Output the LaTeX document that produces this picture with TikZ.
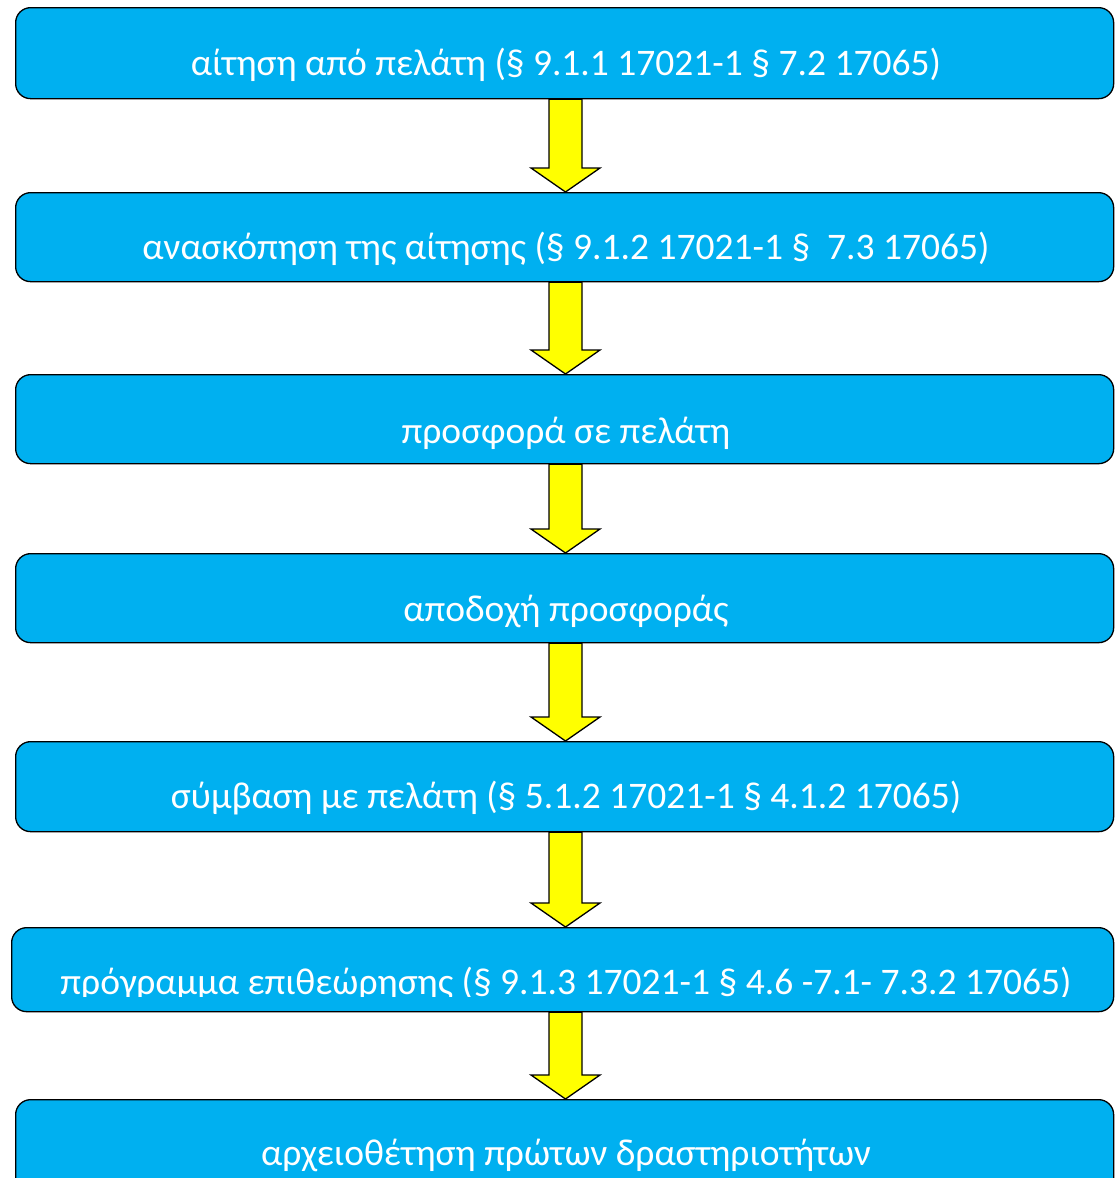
\documentclass[tikz,border=0pt]{standalone}
\usepackage{fontspec}
\setmainfont{Carlito}
\usetikzlibrary{calc}

\definecolor{stageblue}{HTML}{00B0F0}
\definecolor{arrowyellow}{HTML}{FFFF00}

% block arrow from the bottom of one stage to the top of the next
\newcommand\flowarrow[2]{%
  \draw[flowarrow] let \p1=(ax |- #1.south), \p2=(ax |- #2.north) in
    (\x1-16.5pt,\y1) -- (\x1-16.5pt,\y2+24pt) -- (\x1-34.5pt,\y2+24pt) -- (\x2,\y2)
    -- (\x1+34.5pt,\y2+24pt) -- (\x1+16.5pt,\y2+24pt) -- (\x1+16.5pt,\y1) -- cycle;}

\begin{document}
\begin{tikzpicture}[x=1pt, y=-1pt,
      stage/.style={draw=black, line width=1.3pt, fill=stageblue, rounded corners=15pt,
        anchor=north west, minimum width=1098pt, inner sep=0pt},
      stagetext/.style={anchor=base, text=white, inner sep=0pt,
        font=\fontsize{37.5}{45}\selectfont},
      flowarrow/.style={draw=black, line width=1.3pt, fill=arrowyellow, line join=miter}]

    \useasboundingbox[fill=white] (0,0) rectangle (1114,1178);

    \node[stage, minimum height=91pt] (b1) at (15,7)    {};
    \node[stage, minimum height=89pt] (b2) at (15,192)  {};
    \node[stage, minimum height=89pt] (b3) at (15,374)  {};
    \node[stage, minimum height=89pt] (b4) at (15,553)  {};
    \node[stage, minimum height=90pt] (b5) at (15,741)  {};
    \node[stage, minimum height=84pt, minimum width=1102pt] (b6) at (11,927) {};
    \node[stage, minimum height=110pt] (b7) at (15,1099) {};

    \coordinate (ax) at (565.5,0);
    \foreach \a/\b in {b1/b2, b2/b3, b3/b4, b4/b5, b5/b6, b6/b7}
      \flowarrow{\a}{\b};

    \node[stagetext] (t1) at (566,75)   {αίτηση από πελάτη (§ 9.1.1 17021-1 § 7.2 17065)};
    \node[stagetext] (t2) at (566,259)  {ανασκόπηση της αίτησης (§ 9.1.2 17021-1 §\ \ 7.3 17065)};
    \node[stagetext] (t3) at (566,443)  {προσφορά σε πελάτη};
    \node[stagetext] (t4) at (566,621)  {αποδοχή προσφοράς};
    \node[stagetext] (t5) at (566,808)  {σύμβαση με πελάτη (§ 5.1.2 17021-1 § 4.1.2 17065)};
    \begin{scope}
      \clip (0,930) rectangle (1114,996);
      \node[stagetext] (t6) at (566,994) {πρόγραμμα επιθεώρησης (§ 9.1.3 17021-1 § 4.6 -7.1- 7.3.2 17065)};
    \end{scope}
    \node[stagetext] (t7) at (566,1165) {αρχειοθέτηση πρώτων δραστηριοτήτων};
  \end{tikzpicture}
\end{document}
